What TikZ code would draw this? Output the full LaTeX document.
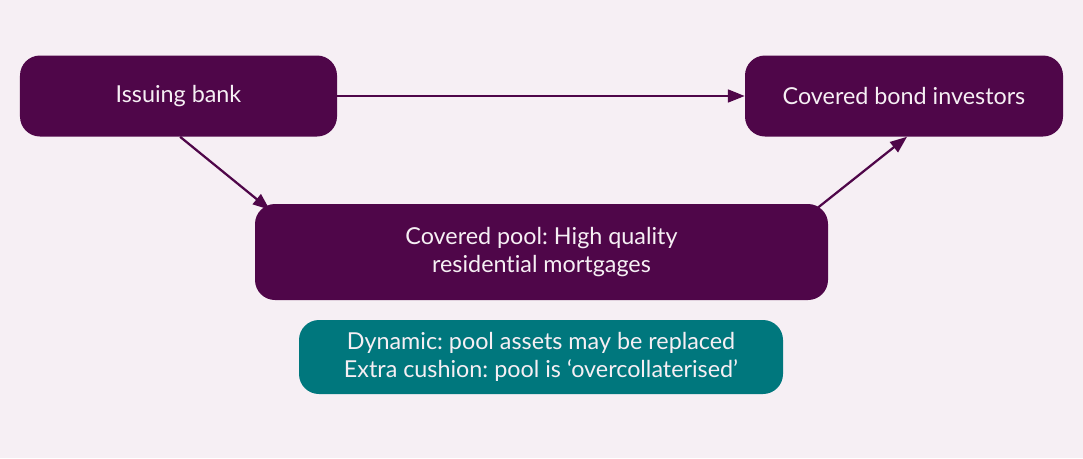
\documentclass[tikz,border=0pt]{standalone}
\usepackage{fontspec}
\setmainfont[Ligatures=NoCommon]{Lato}
\usepackage{tikz}
\usetikzlibrary{arrows.meta}
\frenchspacing

\definecolor{plum}{HTML}{4F0649}
\definecolor{paper}{HTML}{F6EFF4}
\definecolor{teal}{HTML}{00777D}

\begin{document}
\begin{tikzpicture}[
    box/.style={rectangle, rounded corners=0.5cm, fill=plum, text=paper,
        align=center, inner sep=0pt, font=\fontsize{16.6}{20.2}\selectfont},
    notebox/.style={box, fill=teal},
    flow/.style={-{Triangle[length=4.2mm,width=3.2mm]}, line width=1.6pt, draw=plum}
]
    % Background
    \fill[paper] (0,0) rectangle (27.075,-11.45);
    \useasboundingbox (0,0) rectangle (27.075,-11.45);

    % Draw the boxes
    \node[box, minimum width=7.925cm, minimum height=2.025cm] (issuer) at (4.4625,-2.4) {Issuing bank};
    \node[box, minimum width=7.95cm, minimum height=2.025cm] (investors) at (22.6,-2.4) {Covered bond investors};
    \node[box, minimum width=14.325cm, minimum height=2.4cm] (pool) at (13.5375,-6.3)
        {Covered pool: High quality\\residential mortgages};
    \node[notebox, minimum width=12.1cm, minimum height=1.85cm] (features) at (13.525,-8.925)
        {Dynamic: pool assets may be replaced\\Extra cushion: pool is `overcollaterised'};

    % Draw the arrows
    \draw[flow] (issuer.east) -- (investors.west);
    \draw[flow] ([xshift=0.04cm]issuer.south) -- ([xshift=0.375cm,yshift=-0.15cm]pool.north west);
    \draw[flow] ([xshift=-0.325cm,yshift=-0.15cm]pool.north east) -- ([xshift=0.075cm]investors.south);
\end{tikzpicture}
\end{document}
